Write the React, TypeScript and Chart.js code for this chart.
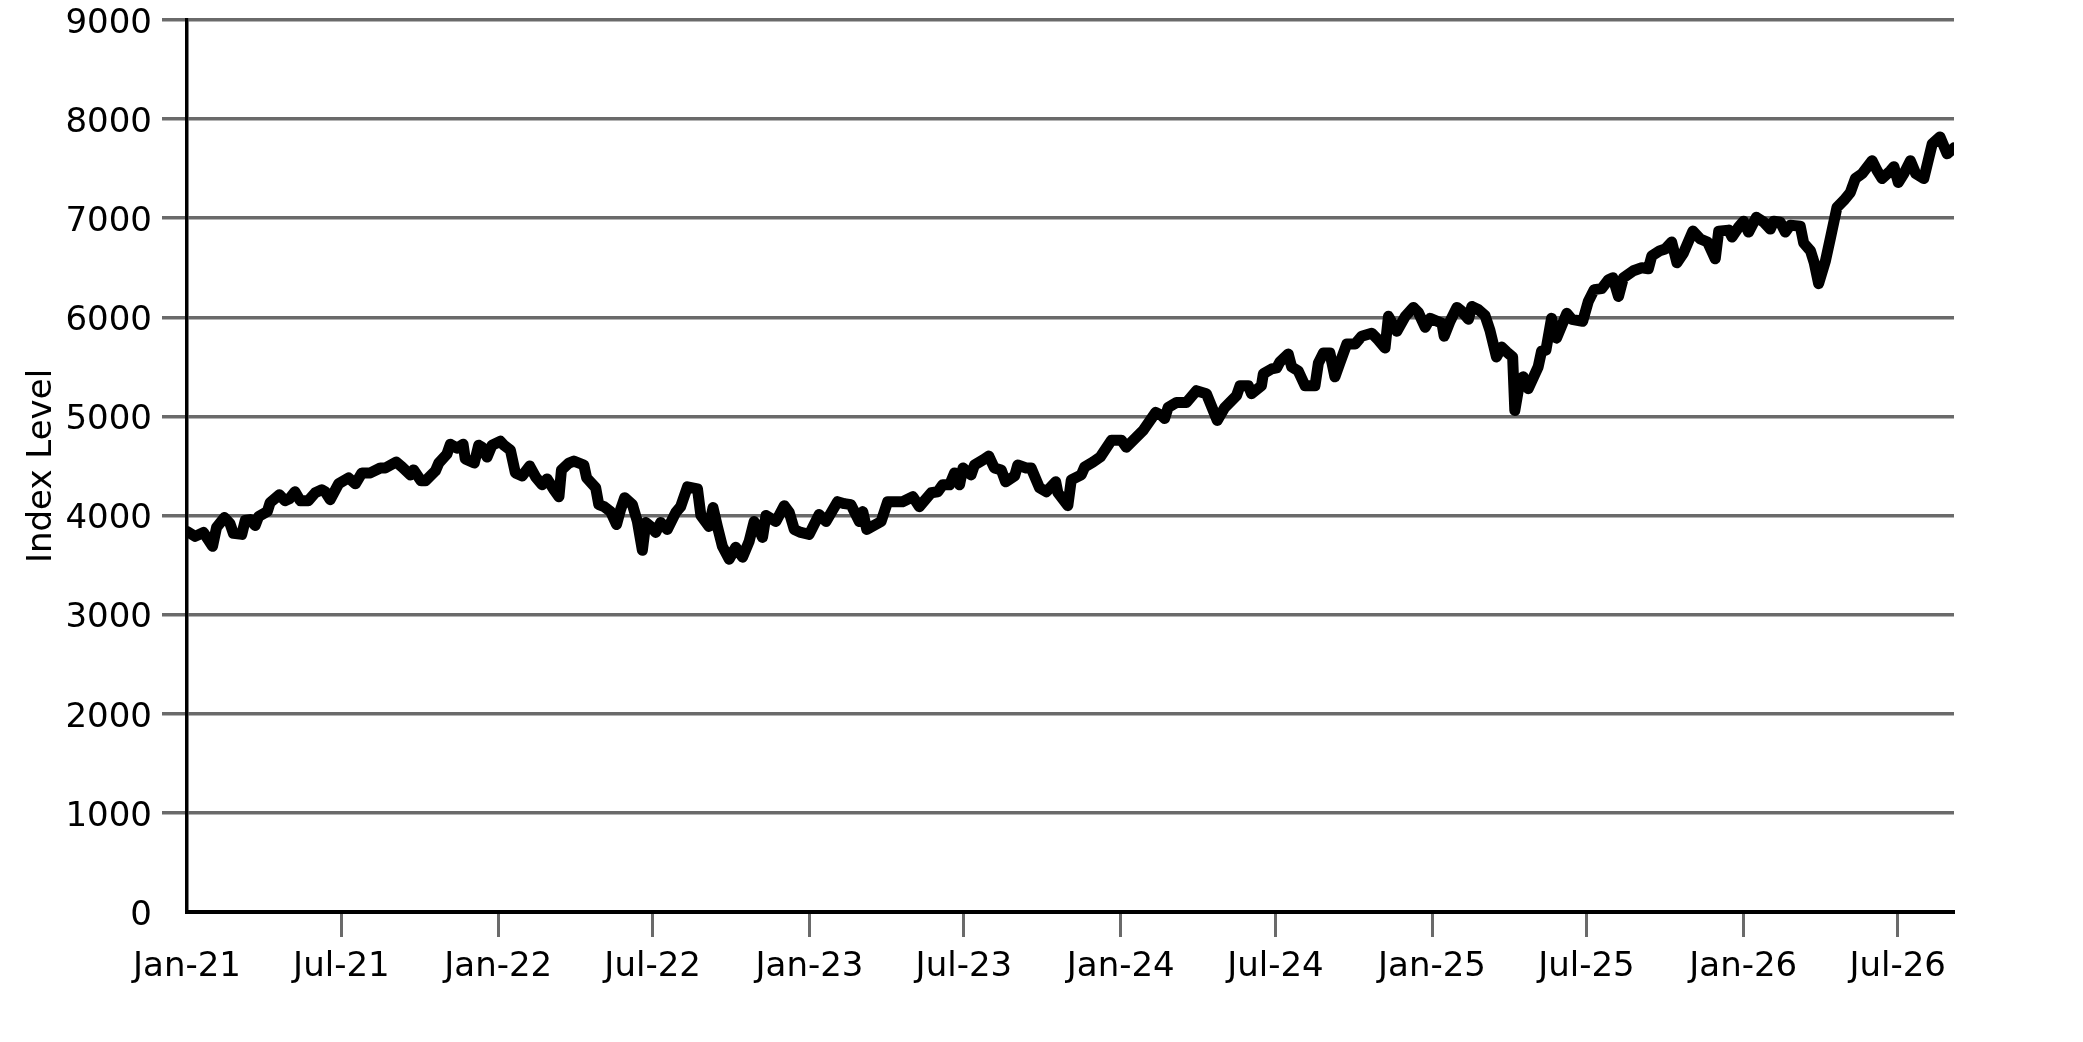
import React, { useEffect, useRef } from "react";
import { Chart, registerables } from "chart.js";

Chart.register(...registerables);

// decimal year of each observation
const dates: number[] = [
  2021.000, 2021.026, 2021.053, 2021.082, 2021.095, 2021.120, 2021.138, 2021.149, 2021.176, 2021.187,
  2021.203, 2021.219, 2021.230, 2021.258, 2021.267, 2021.297, 2021.315, 2021.329, 2021.347, 2021.364,
  2021.390, 2021.412, 2021.433, 2021.444, 2021.460, 2021.487, 2021.519, 2021.541, 2021.562, 2021.589,
  2021.621, 2021.637, 2021.672, 2021.691, 2021.718, 2021.728, 2021.752, 2021.766, 2021.798, 2021.809,
  2021.835, 2021.846, 2021.868, 2021.887, 2021.894, 2021.923, 2021.937, 2021.948, 2021.964, 2021.980,
  2022.007, 2022.018, 2022.039, 2022.055, 2022.077, 2022.101, 2022.120, 2022.141, 2022.157, 2022.179,
  2022.195, 2022.203, 2022.227, 2022.243, 2022.275, 2022.284, 2022.313, 2022.323, 2022.340, 2022.361,
  2022.380, 2022.393, 2022.406, 2022.431, 2022.447, 2022.463, 2022.474, 2022.490, 2022.506, 2022.522,
  2022.543, 2022.570, 2022.586, 2022.608, 2022.640, 2022.651, 2022.677, 2022.690, 2022.704, 2022.720,
  2022.742, 2022.763, 2022.785, 2022.806, 2022.822, 2022.833, 2022.849, 2022.860, 2022.892, 2022.919,
  2022.935, 2022.951, 2022.972, 2022.999, 2023.031, 2023.053, 2023.090, 2023.112, 2023.133, 2023.160,
  2023.171, 2023.184, 2023.230, 2023.251, 2023.299, 2023.332, 2023.353, 2023.391, 2023.412, 2023.428,
  2023.450, 2023.466, 2023.482, 2023.493, 2023.519, 2023.530, 2023.557, 2023.576, 2023.594, 2023.616,
  2023.630, 2023.659, 2023.669, 2023.696, 2023.712, 2023.739, 2023.761, 2023.791, 2023.798, 2023.830,
  2023.841, 2023.873, 2023.884, 2023.911, 2023.934, 2023.970, 2024.002, 2024.018, 2024.072, 2024.112,
  2024.131, 2024.141, 2024.152, 2024.179, 2024.211, 2024.243, 2024.275, 2024.310, 2024.334, 2024.372,
  2024.383, 2024.410, 2024.420, 2024.452, 2024.458, 2024.485, 2024.501, 2024.511, 2024.538, 2024.549,
  2024.570, 2024.592, 2024.624, 2024.635, 2024.651, 2024.672, 2024.688, 2024.704, 2024.726, 2024.753,
  2024.774, 2024.806, 2024.828, 2024.849, 2024.860, 2024.887, 2024.914, 2024.940, 2024.956, 2024.978,
  2024.994, 2025.032, 2025.039, 2025.058, 2025.080, 2025.096, 2025.117, 2025.128, 2025.148, 2025.170,
  2025.186, 2025.207, 2025.224, 2025.240, 2025.259, 2025.266, 2025.283, 2025.293, 2025.309, 2025.341,
  2025.352, 2025.366, 2025.384, 2025.400, 2025.433, 2025.449, 2025.484, 2025.502, 2025.521, 2025.545,
  2025.567, 2025.581, 2025.599, 2025.615, 2025.647, 2025.674, 2025.695, 2025.706, 2025.731, 2025.749,
  2025.770, 2025.787, 2025.808, 2025.838, 2025.862, 2025.885, 2025.910, 2025.921, 2025.953, 2025.964,
  2025.985, 2026.001, 2026.017, 2026.042, 2026.066, 2026.087, 2026.098, 2026.119, 2026.135, 2026.151,
  2026.183, 2026.194, 2026.216, 2026.228, 2026.242, 2026.264, 2026.280, 2026.301, 2026.323, 2026.344,
  2026.360, 2026.382, 2026.414, 2026.430, 2026.446, 2026.473, 2026.484, 2026.498, 2026.516, 2026.537,
  2026.554, 2026.580, 2026.607, 2026.632, 2026.655, 2026.677,
];

// index level at each observation
const values: number[] = [
  3840, 3790, 3830, 3690, 3880, 3980, 3920, 3820, 3810, 3950,
  3960, 3900, 3990, 4040, 4130, 4210, 4150, 4170, 4240, 4150,
  4150, 4230, 4260, 4240, 4160, 4320, 4380, 4320, 4430, 4430,
  4480, 4480, 4540, 4490, 4410, 4460, 4350, 4350, 4450, 4530,
  4620, 4720, 4680, 4720, 4570, 4530, 4710, 4690, 4590, 4710,
  4750, 4710, 4660, 4430, 4400, 4500, 4390, 4310, 4370, 4260,
  4190, 4460, 4530, 4550, 4510, 4380, 4280, 4110, 4090, 4040,
  3910, 4060, 4180, 4110, 3940, 3650, 3930, 3890, 3830, 3930,
  3860, 4030, 4090, 4290, 4270, 4000, 3890, 4080, 3890, 3690,
  3560, 3680, 3580, 3740, 3940, 3890, 3780, 4000, 3940, 4100,
  4030, 3860, 3830, 3810, 4010, 3940, 4140, 4120, 4110, 3940,
  4040, 3860, 3940, 4140, 4140, 4190, 4090, 4230, 4240, 4310,
  4310, 4430, 4310, 4480, 4410, 4510, 4560, 4600, 4480, 4460,
  4340, 4400, 4510, 4480, 4480, 4280, 4240, 4340, 4230, 4100,
  4360, 4410, 4490, 4540, 4590, 4760, 4760, 4690, 4860, 5040,
  5010, 4980, 5090, 5140, 5140, 5260, 5230, 4960, 5090, 5210,
  5310, 5310, 5230, 5310, 5430, 5480, 5490, 5550, 5630, 5500,
  5460, 5310, 5310, 5540, 5640, 5640, 5400, 5540, 5730, 5730,
  5810, 5840, 5770, 5690, 6010, 5860, 6010, 6100, 6050, 5900,
  5990, 5940, 5810, 5960, 6100, 6060, 5980, 6110, 6080, 6020,
  5870, 5600, 5700, 5650, 5600, 5060, 5370, 5400, 5280, 5500,
  5660, 5670, 5990, 5790, 6040, 5980, 5960, 6160, 6280, 6290,
  6380, 6400, 6210, 6400, 6470, 6500, 6490, 6620, 6670, 6690,
  6760, 6550, 6650, 6870, 6790, 6760, 6590, 6870, 6880, 6810,
  6910, 6970, 6860, 7010, 6960, 6890, 6970, 6960, 6860, 6930,
  6920, 6750, 6670, 6550, 6340, 6570, 6800, 7110, 7180, 7260,
  7400, 7450, 7580, 7480, 7400, 7480, 7520, 7360, 7450, 7580,
  7450, 7400, 7750, 7820, 7650, 7710,
];

// x-axis tick positions (decimal years) and their labels
const tickValues: number[] = [
  2021.0, 2021.496, 2022.0, 2022.496, 2023.0, 2023.496,
  2024.0, 2024.497, 2025.0, 2025.496, 2026.0, 2026.496,
];
const tickLabels: string[] = [
  "Jan-21", "Jul-21", "Jan-22", "Jul-22", "Jan-23", "Jul-23",
  "Jan-24", "Jul-24", "Jan-25", "Jul-25", "Jan-26", "Jul-26",
];

const yMin = 0;
const yMax = 9000;
const yStep = 1000;
const yTitle = "Index Level";

const GRID = "#6a6a6a";
const FONT = "'DejaVu Sans', sans-serif";

export default function App() {
  const ref = useRef<HTMLCanvasElement | null>(null);

  useEffect(() => {
    if (!ref.current) return;
    Chart.defaults.font.family = FONT;
    const chart = new Chart(ref.current, {
      type: "line",
      data: {
        datasets: [
          {
            data: dates.map((d, i) => ({ x: d, y: values[i] })),
            borderColor: "#000000",
            borderWidth: 11,
            borderJoinStyle: "round",
            borderCapStyle: "round",
            pointRadius: 0,
            pointHoverRadius: 0,
            tension: 0,
            fill: false,
          },
        ],
      },
      options: {
        animation: false,
        responsive: true,
        maintainAspectRatio: false,
        layout: { padding: { left: 0, top: 20, right: 129, bottom: 0 } },
        plugins: {
          legend: { display: false },
          tooltip: { enabled: false },
        },
        scales: {
          x: {
            type: "linear",
            min: dates[0],
            max: dates[dates.length - 1],
            afterBuildTicks: (scale: any) => {
              scale.ticks = tickValues.map((v) => ({ value: v }));
            },
            afterFit: (scale: any) => {
              scale.height = 130;
              scale.paddingLeft = 0;
              scale.paddingRight = 0;
            },
            grid: {
              drawOnChartArea: false,
              drawTicks: true,
              tickLength: 25,
              tickWidth: 3,
              tickColor: (ctx: any) => (ctx.index === 0 ? "rgba(0,0,0,0)" : GRID),
            },
            border: { display: true, color: "#000000", width: 4 },
            ticks: {
              autoSkip: false,
              maxRotation: 0,
              minRotation: 0,
              padding: 10,
              color: "#000000",
              font: { size: 34, family: FONT },
              callback: (_v: any, i: number) => tickLabels[i],
            },
          },
          y: {
            type: "linear",
            min: yMin,
            max: yMax,
            afterFit: (scale: any) => {
              scale.width = 187;
              scale.paddingTop = 0;
              scale.paddingBottom = 0;
            },
            grid: {
              color: GRID,
              lineWidth: 3.5,
              drawTicks: true,
              tickLength: 25,
              tickWidth: 3.5,
              tickColor: (ctx: any) => (ctx.tick && ctx.tick.value === 0 ? "rgba(0,0,0,0)" : GRID),
            },
            border: { display: true, color: "#000000", width: 3.5 },
            ticks: {
              stepSize: yStep,
              padding: 10,
              labelOffset: 4,
              color: "#000000",
              font: { size: 34, family: FONT },
              callback: (v: any) => String(v),
            },
            title: {
              display: true,
              text: yTitle,
              color: "#000000",
              font: { size: 34, family: FONT },
              padding: { top: 22, bottom: 0 },
            },
          },
        },
      },
    });
    return () => chart.destroy();
  }, []);

  return (
    <div style={{ position: "fixed", left: 0, top: 0, width: "2083px", height: "1042px", background: "#ffffff" }}>
      <canvas ref={ref} />
    </div>
  );
}
